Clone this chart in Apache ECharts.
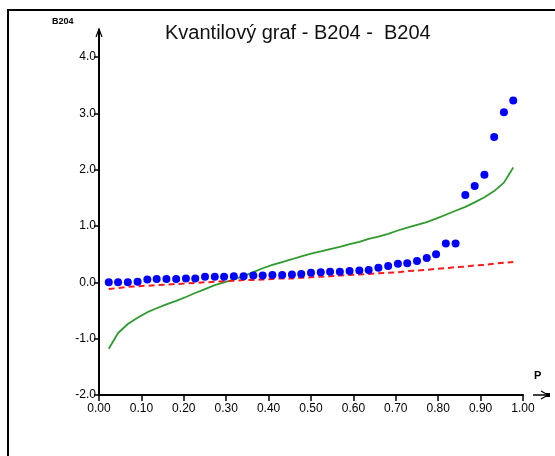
<!DOCTYPE html>
<html>
<head>
<meta charset="utf-8">
<script src="https://cdn.jsdelivr.net/npm/echarts@6/dist/echarts.min.js"></script>
<style>html,body{margin:0;padding:0;background:#fff}#c{width:555px;height:456px}</style>
</head>
<body>
<div id="c"></div>
<script>
const titleText = 'Kvantilový graf - B204 -  B204';
const yName = 'B204';
const xName = 'P';
const pValues = [0.023,0.045,0.068,0.091,0.114,0.136,0.159,0.182,0.205,0.227,0.250,0.273,0.295,0.318,0.341,0.364,0.386,0.409,0.432,0.455,0.477,0.500,0.523,0.545,0.568,0.591,0.614,0.636,0.659,0.682,0.705,0.727,0.750,0.773,0.795,0.818,0.841,0.864,0.886,0.909,0.932,0.955,0.977];
const observed = [0.00,0.00,0.00,0.01,0.05,0.06,0.06,0.06,0.07,0.07,0.10,0.10,0.10,0.11,0.11,0.12,0.12,0.13,0.13,0.14,0.15,0.17,0.18,0.19,0.19,0.20,0.21,0.22,0.26,0.29,0.33,0.34,0.38,0.43,0.50,0.69,0.69,1.55,1.71,1.91,2.58,3.02,3.23];
const normalLine = [-1.18,-0.90,-0.74,-0.63,-0.53,-0.46,-0.39,-0.33,-0.26,-0.19,-0.12,-0.05,0.00,0.05,0.11,0.18,0.25,0.31,0.36,0.41,0.46,0.51,0.55,0.59,0.63,0.68,0.72,0.77,0.81,0.86,0.92,0.97,1.02,1.07,1.13,1.20,1.27,1.34,1.42,1.51,1.62,1.77,2.04];
const robustLine = [-0.12,-0.10,-0.08,-0.07,-0.06,-0.05,-0.04,-0.03,-0.02,-0.01,0.00,0.01,0.02,0.03,0.04,0.04,0.05,0.06,0.07,0.07,0.08,0.09,0.10,0.11,0.12,0.13,0.14,0.15,0.16,0.17,0.18,0.20,0.21,0.22,0.24,0.25,0.27,0.28,0.30,0.31,0.33,0.35,0.36];

const FONT = '"Liberation Sans Narrow","Liberation Sans",Arial,sans-serif';
const pair = (ys) => pValues.map((p, i) => [p, ys[i]]);

const chart = echarts.init(document.getElementById('c'), null, {renderer: 'canvas'});
chart.setOption({
  animation: false,
  backgroundColor: '#fff',
  title: {
    text: titleText, left: 160, top: 18,
    textStyle: {fontSize: 20, fontWeight: 'normal', color: '#111', fontFamily: FONT}
  },
  grid: {left: 99, right: 32, top: 57, bottom: 61, containLabel: false},
  xAxis: {
    type: 'value', min: 0, max: 1, interval: 0.1,
    axisLine: {show: true, onZero: false, lineStyle: {color: '#000', width: 2}},
    axisTick: {show: true, inside: false, length: 6, lineStyle: {color: '#000', width: 1.5}},
    axisLabel: {formatter: v => v.toFixed(2), color: '#000', fontSize: 12, fontFamily: FONT, margin: 8},
    splitLine: {show: false}
  },
  yAxis: {
    type: 'value', min: -2, max: 4, interval: 1,
    axisLine: {show: true, onZero: false, lineStyle: {color: '#000', width: 2}},
    axisTick: {show: true, inside: false, length: 5, lineStyle: {color: '#000', width: 1.5}},
    axisLabel: {formatter: v => v.toFixed(1), color: '#000', fontSize: 12, fontFamily: FONT, margin: 3},
    splitLine: {show: false}
  },
  series: [
    {type: 'line', data: pair(normalLine), showSymbol: false, symbol: 'none',
     lineStyle: {color: '#2f9a2f', width: 1.8}, z: 2},
    {type: 'line', data: pair(robustLine), showSymbol: false, symbol: 'none',
     lineStyle: {color: '#ff1a1a', width: 2, type: [6, 4]}, z: 3},
    {type: 'scatter', data: pair(observed), symbol: 'circle', symbolSize: 8,
     itemStyle: {color: '#0000ff', opacity: 1}, z: 4}
  ]
});

const pOrigin = chart.convertToPixel({gridIndex: 0}, [0, -2]);
const pTop = chart.convertToPixel({gridIndex: 0}, [0, 4]);
const pRight = chart.convertToPixel({gridIndex: 0}, [1, -2]);
const ax = pOrigin[0], ay = pOrigin[1];
const yTipY = pTop[1] - 28;
const xTipX = pRight[0] + 25;
chart.setOption({
  graphic: [
    {type: 'rect', shape: {x: 8, y: 10, width: 600, height: 500}, style: {fill: 'none', stroke: '#000', lineWidth: 2}, silent: true, z: 0},
    {type: 'line', shape: {x1: ax, y1: pTop[1], x2: ax, y2: yTipY}, style: {stroke: '#000', lineWidth: 2}, z: 10},
    {type: 'polyline', shape: {points: [[ax - 3, yTipY + 8], [ax, yTipY], [ax + 3, yTipY + 8]]}, style: {stroke: '#000', lineWidth: 1.2, fill: 'none'}, z: 10},
    {type: 'line', shape: {x1: pRight[0] + 10, y1: ay, x2: xTipX, y2: ay}, style: {stroke: '#000', lineWidth: 1.5}, z: 10},
    {type: 'polyline', shape: {points: [[xTipX - 7, ay - 4], [xTipX, ay], [xTipX - 7, ay + 4]]}, style: {stroke: '#000', lineWidth: 1.2, fill: 'none'}, z: 10},
    {type: 'rect', shape: {x: xTipX - 2, y: ay - 2, width: 4, height: 4}, style: {fill: '#000'}, z: 10},
    {type: 'text', x: ax - 47, y: yTipY - 12, style: {text: yName, font: 'bold 9px ' + FONT, fill: '#000'}, z: 10},
    {type: 'text', x: pRight[0] + 11, y: ay - 25, style: {text: xName, font: 'bold 11px ' + FONT, fill: '#000'}, z: 10}
  ]
});
</script>
</body>
</html>
